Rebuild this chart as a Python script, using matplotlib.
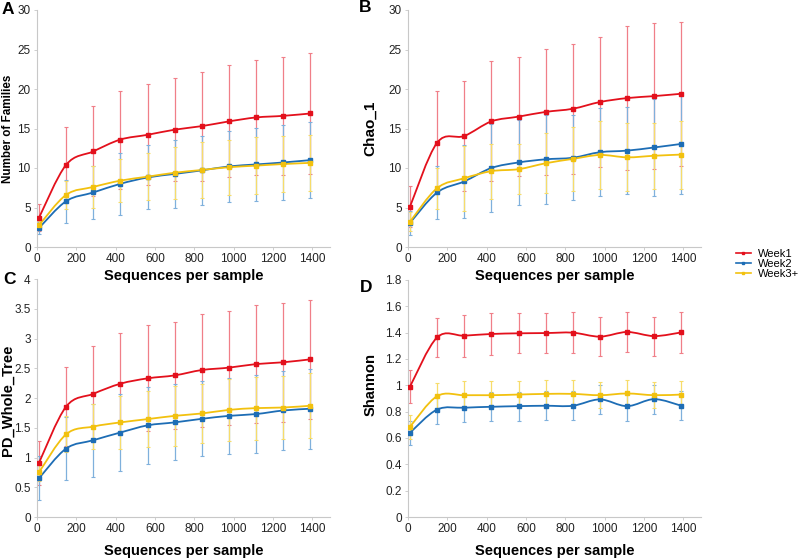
import numpy as np
import matplotlib
matplotlib.use("Agg")
import matplotlib.pyplot as plt
from matplotlib.path import Path
from matplotlib.patches import PathPatch
from matplotlib.lines import Line2D
from matplotlib.ticker import FuncFormatter

plt.rcParams['font.family'] = ['Liberation Sans', 'DejaVu Sans']

seqs = [10, 148, 286, 424, 562, 700, 838, 976, 1114, 1252, 1390]
groups = ["Week1", "Week2", "Week3+"]

# Panel A: Number of Families
famA_w1 = [3.7, 10.4, 12.1, 13.6, 14.2, 14.85, 15.3, 15.9, 16.4, 16.6, 16.9]
famA_w1_sd = [1.7, 4.8, 5.7, 6.2, 6.4, 6.55, 6.9, 7.1, 7.3, 7.5, 7.6]
famA_w2 = [2.4, 5.8, 6.9, 8.0, 8.8, 9.25, 9.7, 10.2, 10.45, 10.7, 11.0]
famA_w2_sd = [0.8, 2.7, 3.4, 3.9, 4.05, 4.25, 4.4, 4.5, 4.65, 4.8, 4.85]
famA_w3 = [2.75, 6.6, 7.6, 8.4, 8.9, 9.4, 9.75, 10.1, 10.3, 10.5, 10.65]
famA_w3_sd = [0.6, 1.8, 2.6, 2.7, 3.0, 3.3, 3.6, 3.5, 3.6, 3.6, 3.5]

# Panel B: Chao_1
chaoB_w1 = [5.1, 13.2, 14.05, 15.9, 16.5, 17.1, 17.5, 18.35, 18.85, 19.1, 19.4]
chaoB_w1_sd = [2.6, 6.5, 6.9, 7.6, 7.5, 8.0, 8.2, 8.2, 9.1, 9.2, 9.1]
chaoB_w2 = [3.05, 6.9, 8.3, 10.0, 10.7, 11.1, 11.3, 12.0, 12.2, 12.6, 13.05]
chaoB_w2_sd = [1.5, 3.3, 4.6, 5.6, 5.4, 5.6, 5.4, 5.55, 5.5, 6.15, 6.3]
chaoB_w3 = [3.2, 7.45, 8.7, 9.6, 9.85, 10.6, 11.15, 11.65, 11.35, 11.55, 11.7]
chaoB_w3_sd = [1.2, 2.6, 4.1, 3.5, 3.2, 3.8, 4.1, 4.3, 4.3, 4.2, 4.3]

# Panel C: PD_Whole_Tree
pdC_w1 = [0.91, 1.855, 2.07, 2.24, 2.33, 2.38, 2.47, 2.51, 2.57, 2.6, 2.65]
pdC_w1_sd = [0.37, 0.67, 0.8, 0.85, 0.89, 0.9, 0.95, 0.96, 0.99, 1.0, 1.0]
pdC_w2 = [0.65, 1.15, 1.29, 1.42, 1.54, 1.59, 1.65, 1.7, 1.73, 1.79, 1.82]
pdC_w2_sd = [0.37, 0.53, 0.61, 0.64, 0.65, 0.64, 0.63, 0.64, 0.65, 0.67, 0.67]
pdC_w3 = [0.75, 1.39, 1.52, 1.59, 1.645, 1.7, 1.74, 1.8, 1.83, 1.84, 1.87]
pdC_w3_sd = [0.15, 0.3, 0.38, 0.45, 0.47, 0.5, 0.5, 0.52, 0.53, 0.53, 0.55]

# Panel D: Shannon
shD_w1 = [0.99, 1.364, 1.377, 1.39, 1.395, 1.397, 1.4, 1.37, 1.405, 1.374, 1.402]
shD_w1_sd = [0.125, 0.15, 0.16, 0.157, 0.152, 0.155, 0.154, 0.146, 0.155, 0.148, 0.155]
shD_w2 = [0.64, 0.816, 0.83, 0.837, 0.842, 0.845, 0.845, 0.893, 0.842, 0.895, 0.845]
shD_w2_sd = [0.09, 0.11, 0.11, 0.11, 0.11, 0.11, 0.11, 0.11, 0.11, 0.11, 0.11]
shD_w3 = [0.685, 0.918, 0.925, 0.925, 0.93, 0.935, 0.935, 0.925, 0.938, 0.925, 0.93]
shD_w3_sd = [0.09, 0.1, 0.105, 0.105, 0.105, 0.105, 0.105, 0.1, 0.105, 0.1, 0.105]

colors = ["#e3101c", "#1d6db5", "#f2c10f"]
ecolors = ["#f07f88", "#7fb0dc", "#f7dc6a"]


def smooth_path(x, y):
    x = np.asarray(x, float)
    y = np.asarray(y, float)
    pts = np.column_stack([x, y])
    n = len(pts)
    verts = [pts[0]]
    codes = [Path.MOVETO]
    for i in range(n - 1):
        p0 = pts[i - 1] if i > 0 else pts[i]
        p1 = pts[i]
        p2 = pts[i + 1]
        p3 = pts[i + 2] if i + 2 < n else pts[i + 1]
        c1 = p1 + (p2 - p0) / 6.0
        c2 = p2 - (p3 - p1) / 6.0
        verts += [c1, c2, p2]
        codes += [Path.CURVE4] * 3
    return Path(verts, codes)


fig = plt.figure(figsize=(8, 5.58), dpi=100)
W, H = 800, 558


def make_ax(left, top, bottom, right):
    return fig.add_axes([left / W, 1 - bottom / H, (right - left) / W, (bottom - top) / H])


panels = [
    dict(box=(37, 10, 247, 330), series=[(famA_w1, famA_w1_sd), (famA_w2, famA_w2_sd), (famA_w3, famA_w3_sd)],
         ylim=30, ystep=5, ylabel="Number of Families", ylsize=8.4, ylpos=(-0.099, 0.5), letter="A", lpos=(8, 9), xlabpad=2.5),
    dict(box=(408, 10, 247, 701), series=[(chaoB_w1, chaoB_w1_sd), (chaoB_w2, chaoB_w2_sd), (chaoB_w3, chaoB_w3_sd)],
         ylim=30, ystep=5, ylabel="Chao_1", ylsize=11, ylpos=(-0.13, 0.5), letter="B", lpos=(365, 8), xlabpad=2.5),
    dict(box=(37, 279, 517, 330), series=[(pdC_w1, pdC_w1_sd), (pdC_w2, pdC_w2_sd), (pdC_w3, pdC_w3_sd)],
         ylim=4, ystep=0.5, ylabel="PD_Whole_Tree", ylsize=10.6, ylpos=(-0.10, 0.49), letter="C", lpos=(9, 280), xlabpad=6.5),
    dict(box=(408, 280, 517, 701), series=[(shD_w1, shD_w1_sd), (shD_w2, shD_w2_sd), (shD_w3, shD_w3_sd)],
         ylim=1.8, ystep=0.2, ylabel="Shannon", ylsize=10.6, ylpos=(-0.127, 0.557), letter="D", lpos=(366, 287), xlabpad=6.5),
]

for p in panels:
    l, t, b, r = p["box"]
    ax = make_ax(l, t, b, r)
    ax.patch.set_visible(False)
    for (vals, sd), c, ec in zip(p["series"], colors, ecolors):
        ax.errorbar(seqs, vals, yerr=sd, fmt='none', ecolor=ec, elinewidth=0.9, capsize=1.6, capthick=0.8, zorder=2)
    for (vals, sd), c in zip(p["series"], colors):
        ax.add_patch(PathPatch(smooth_path(seqs, vals), fill=False, edgecolor=c, lw=1.3, zorder=3))
        ax.plot(seqs, vals, linestyle='none', marker='s', ms=2.3, color=c, zorder=4)
    ax.set_xlim(0, 1490)
    ax.set_ylim(0, p["ylim"])
    ax.set_xticks(np.arange(0, 1401, 200))
    ax.set_yticks(np.arange(0, p["ylim"] + 1e-9, p["ystep"]))
    ax.yaxis.set_major_formatter(FuncFormatter(lambda v, pos: "%g" % round(v, 2)))
    for s in ["top", "right"]:
        ax.spines[s].set_visible(False)
    for s in ["left", "bottom"]:
        ax.spines[s].set_color("#c8c8c8")
        ax.spines[s].set_linewidth(0.8)
    ax.tick_params(axis='both', labelsize=8.5, colors="#c8c8c8", labelcolor="#222222", length=2.5, width=0.6, pad=2)
    ax.set_xlabel("Sequences per sample", fontsize=10.5, fontweight='bold', labelpad=p["xlabpad"])
    ax.set_ylabel(p["ylabel"], fontsize=p["ylsize"], fontweight='bold')
    ax.yaxis.label.set_va('center')
    ax.yaxis.set_label_coords(*p["ylpos"])
    fig.text(p["lpos"][0] / W, 1 - p["lpos"][1] / H, p["letter"], fontsize=12.5, fontweight='bold',
             ha='center', va='center')

handles = [Line2D([], [], color=c, lw=1.2, marker='s', ms=2.0) for c in colors]
fig.legend(handles, groups, loc='center left', bbox_to_anchor=(730 / W, 1 - 264 / H), frameon=False,
           fontsize=8, handlelength=1.4, handletextpad=0.6, labelspacing=0.0, borderpad=0)

fig.savefig("out.png", dpi=100)
